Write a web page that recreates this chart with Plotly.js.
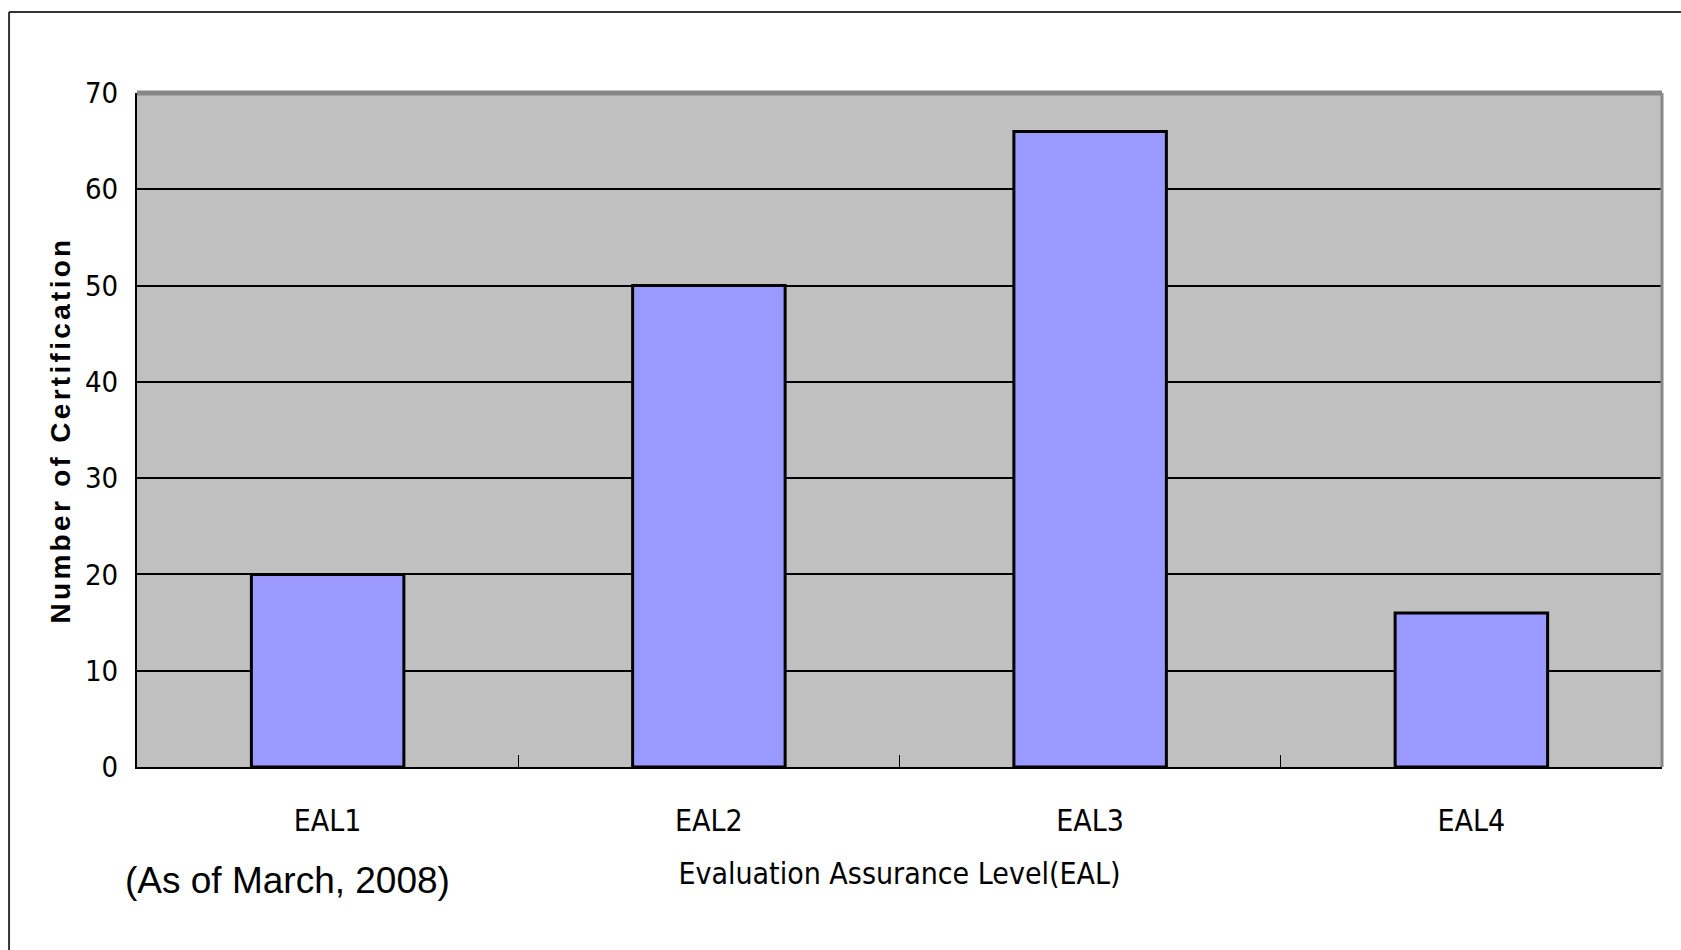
<!DOCTYPE html>
<html>
<head>
<meta charset="utf-8">
<script src="https://cdn.plot.ly/plotly-3.0.1.min.js"></script>
<style>
html,body{margin:0;padding:0;background:#fff;}
#chart{width:1681px;height:950px;}
#chart .ytitle{letter-spacing:3.3px;}
</style>
</head>
<body>
<div id="chart"></div>
<script>
const categories = ["EAL1", "EAL2", "EAL3", "EAL4"];
const certifications = [20, 50, 66, 16];
const yTickValues = [0, 10, 20, 30, 40, 50, 60, 70];
const xTitle = "Evaluation Assurance Level(EAL)";
const yTitle = "Number of Certification";
const noteText = "(As of March, 2008)";

const narrow = "Liberation Sans Narrow, Arial Narrow, DejaVu Sans Condensed, sans-serif";

const trace = {
  type: "bar",
  x: categories,
  y: certifications,
  width: 0.4,
  marker: {color: "#9999ff", line: {color: "#000000", width: 3}},
  hoverinfo: "x+y"
};

const layout = {
  width: 1681,
  height: 950,
  margin: {l: 137, r: 19, t: 93, b: 183},
  paper_bgcolor: "#ffffff",
  plot_bgcolor: "#c0c0c0",
  showlegend: false,
  xaxis: {
    type: "category",
    range: [-0.5, 3.5],
    showgrid: false,
    showline: true,
    linecolor: "#000000",
    linewidth: 2,
    ticks: "inside",
    tickson: "boundaries",
    ticklen: 12,
    tickcolor: "#000000",
    tickwidth: 1,
    ticklabelstandoff: 26,
    tickfont: {family: narrow, size: 30, color: "#000000"},
    title: {text: xTitle, font: {family: narrow, size: 30, color: "#000000"}, standoff: 26}
  },
  yaxis: {
    range: [0, 70],
    tickvals: yTickValues,
    showgrid: true,
    gridcolor: "#000000",
    gridwidth: 2,
    zeroline: false,
    showline: true,
    linecolor: "#000000",
    linewidth: 2,
    ticks: "",
    ticklabelstandoff: 11,
    tickfont: {family: narrow, size: 29, color: "#000000"},
    title: {text: yTitle, font: {family: "Liberation Sans, Arial, sans-serif", size: 28, color: "#000000", weight: "bold"}, standoff: 6}
  },
  shapes: [
    {type: "line", xref: "paper", yref: "paper", x0: 0, x1: 1, y0: 1, y1: 1, line: {color: "#888888", width: 5}},
    {type: "line", xref: "paper", yref: "paper", x0: 1, x1: 1, y0: 0, y1: 1, line: {color: "#888888", width: 3}},
    {type: "line", xref: "paper", yref: "paper", x0: -0.0839, x1: 1.2, y0: 1.1202, y1: 1.1202, line: {color: "#333333", width: 2}},
    {type: "line", xref: "paper", yref: "paper", x0: -0.0839, x1: -0.0839, y0: 1.1202, y1: -0.5, line: {color: "#333333", width: 2}}
  ],
  annotations: [
    {text: noteText, xref: "paper", yref: "paper", x: -0.0092, y: -0.1677, xanchor: "left", yanchor: "middle", showarrow: false,
     font: {family: "Liberation Sans, Arial, sans-serif", size: 37, color: "#000000"}}
  ]
};

Plotly.newPlot("chart", [trace], layout, {displayModeBar: false, staticPlot: true});
</script>
</body>
</html>
